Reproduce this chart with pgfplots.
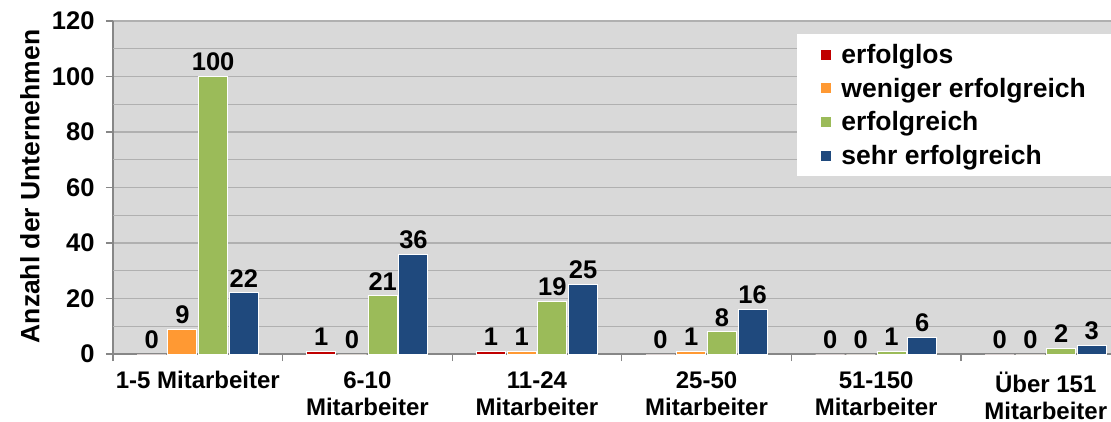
\documentclass[border=0pt]{standalone}
\usepackage{fontspec}
\setmainfont{Liberation Sans}
\usepackage{pgfplots}
\usepackage{pgfplotstable}
\pgfplotsset{compat=1.18}

\definecolor{cRed}{HTML}{C00000}
\definecolor{cOrange}{HTML}{FF9933}
\definecolor{cGreen}{HTML}{9BBB59}
\definecolor{cBlue}{HTML}{1F497D}
\definecolor{plotbg}{HTML}{D9D9D9}
\definecolor{gridc}{HTML}{B0B0B0}
\definecolor{axisc}{HTML}{878787}

\newcommand\lbl{\fontsize{24bp}{27bp}\selectfont\bfseries}
\newcommand\zahl{\fontsize{25.5bp}{28bp}\selectfont\bfseries}
\newcommand\lgd{\fontsize{26.5bp}{28bp}\selectfont\bfseries}

% Anzahl der Unternehmen je Betriebsgröße (x = Größenklasse)
\pgfplotstableread{
x erfolglos weniger erfolgreich sehr
0 0 9 100 22
1 1 0 21 36
2 1 1 19 25
3 0 1 8 16
4 0 0 1 6
5 0 0 2 3
}\daten

\begin{document}
\begin{tikzpicture}
\begin{axis}[
  at={(0,0)}, anchor=south west,
  scale only axis, width=1017.6bp, height=333bp,
  xmin=-0.5, xmax=5.5, ymin=0, ymax=120,
  /pgf/number format/assume math mode=true,
  ybar=1.7bp, bar width=29bp,
  axis background/.style={fill=plotbg},
  axis x line*=bottom, axis y line*=left,
  axis line style={draw=axisc, line width=1.3bp},
  tick align=outside, major tick length=7bp,
  tick style={draw=axisc, line width=1.3bp},
  ytick={0,20,...,120},
  extra y ticks={10,30,...,110}, extra y tick labels={},
  extra y tick style={major tick length=0pt},
  ymajorgrids, grid style={draw=gridc, line width=1.3bp},
  yticklabel style={font=\zahl, xshift=-8bp},
  xtick={-0.5,0.5,...,5.5}, xticklabels={},
  extra x ticks={0,1,2,3,4,5},
  extra x tick labels={1-5 Mitarbeiter,{6-10\\Mitarbeiter},{11-24\\Mitarbeiter},{25-50\\Mitarbeiter},{51-150\\Mitarbeiter},{Über 151\\Mitarbeiter}},
  extra x tick style={major tick length=0pt, xticklabel style={align=center, anchor=north, font=\lbl, yshift=-14bp}},
  ylabel={Anzahl der Unternehmen},
  ylabel style={font=\lgd, at={(axis description cs:-0.0816,0.503)}, anchor=center},
  nodes near coords,
  nodes near coords style={font=\zahl, anchor=south, inner sep=0pt, yshift=5bp},
  legend style={at={(axis description cs:0.672,0.961)}, anchor=north west,
    fill=white, draw=none, font=\lgd, inner xsep=24bp, inner ysep=8bp,
    row sep=9bp, cells={anchor=west}},
  legend image code/.code={\fill[#1,draw=none] (0bp,-5bp) rectangle (10bp,5bp); \path (18bp,0bp);},
  every axis plot/.append style={draw=white, line width=1bp},
]
\addplot[fill=cRed] table[x=x, y=erfolglos] {\daten};
\addplot[fill=cOrange] table[x=x, y=weniger] {\daten};
\addplot[fill=cGreen] table[x=x, y=erfolgreich] {\daten};
\addplot[fill=cBlue] table[x=x, y=sehr] {\daten};
\legend{erfolglos, weniger erfolgreich, erfolgreich, sehr erfolgreich}
\end{axis}
\pgfresetboundingbox
\path[use as bounding box] (-113bp,-68bp) rectangle (998bp,354bp);
\end{tikzpicture}
\end{document}
